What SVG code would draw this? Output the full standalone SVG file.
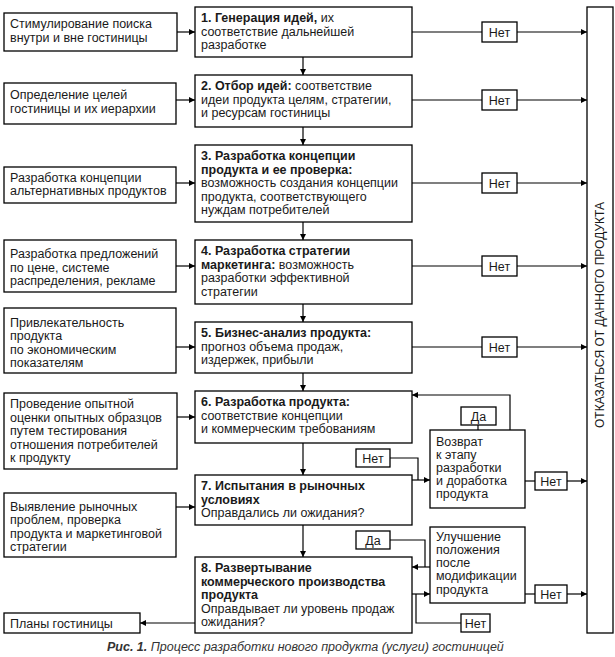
<svg xmlns="http://www.w3.org/2000/svg" width="615" height="657" viewBox="0 0 615 657">
<defs>
<marker id="ah" viewBox="0 0 10 10" refX="10" refY="5" markerWidth="7" markerHeight="6" orient="auto" markerUnits="userSpaceOnUse">
<path d="M0,0 L10,5 L0,10 z" fill="#000"/>
</marker>
<style>
rect{fill:#fff;stroke:#000;stroke-width:1.3}
text{font-family:"Liberation Sans",Arial,sans-serif;font-size:12.5px;fill:#1a1a1a}
.b{font-weight:bold}
.c{text-anchor:middle}
.v{font-size:12px}
.con path{fill:none;stroke:#000;stroke-width:1.2}
.ar{marker-end:url(#ah)}
.cap{font-style:italic;font-size:12.5px;fill:#333}
</style>
</defs>
<rect x="0" y="0" width="615" height="657" style="fill:#fff;stroke:none"/>

<g id="connectors" class="con">
<path class="ar" d="M177,32 H195"/>
<path class="ar" d="M176,100 H195"/>
<path class="ar" d="M176,183 H195"/>
<path class="ar" d="M176,266 H195"/>
<path class="ar" d="M176,347 H195"/>
<path class="ar" d="M177,417 H195"/>
<path class="ar" d="M176,507 H195"/>
<path class="ar" d="M195,623 H140"/>
<path class="ar" d="M303,57 V75"/>
<path class="ar" d="M303,127 V145"/>
<path class="ar" d="M303,222 V240"/>
<path class="ar" d="M303,304 V322"/>
<path class="ar" d="M303,373 V391"/>
<path class="ar" d="M303,443 V475"/>
<path class="ar" d="M303,525 V557"/>
<path d="M412,32 H482"/><path class="ar" d="M517,32 H587"/>
<path d="M412,100 H482"/><path class="ar" d="M517,100 H587"/>
<path d="M412,183 H482"/><path class="ar" d="M517,183 H587"/>
<path d="M412,266 H482"/><path class="ar" d="M517,266 H587"/>
<path d="M412,347 H482"/><path class="ar" d="M517,347 H587"/>
<path class="ar" d="M510,430 V395 H412"/>
<path d="M478,425 V430"/>
<path class="ar" d="M412,480 H430"/>
<path d="M390,458 H418 V480"/>
<path d="M525,481 H535"/><path class="ar" d="M567,481 H587"/>
<path class="ar" d="M430,567 H412"/>
<path d="M390,540 H425 V567"/>
<path class="ar" d="M412,594 H430"/>
<path d="M416,594 V623 H461"/>
<path d="M525,594 H535"/><path class="ar" d="M567,594 H587"/>
</g>

<g id="l1"><rect x="4" y="13" width="173" height="38"/>
<text x="10" y="28">Стимулирование поиска</text><text x="10" y="42">внутри и вне гостиницы</text></g>
<g id="l2"><rect x="4" y="83" width="172" height="41"/>
<text x="10" y="99">Определение целей</text><text x="10" y="113">гостиницы и их иерархии</text></g>
<g id="l3"><rect x="4" y="167" width="172" height="36"/>
<text x="10" y="181.5">Разработка концепции</text><text x="10" y="195">альтернативных продуктов</text></g>
<g id="l4"><rect x="4" y="240" width="172" height="52"/>
<text x="10" y="258">Разработка предложений</text><text x="10" y="272">по цене, системе</text><text x="10" y="285">распределения, рекламе</text></g>
<g id="l5"><rect x="4" y="308" width="172" height="65"/>
<text x="10" y="327">Привлекательность</text><text x="10" y="340">продукта</text><text x="10" y="353.5">по экономическим</text><text x="10" y="367">показателям</text></g>
<g id="l6"><rect x="4" y="393" width="173" height="76"/>
<text x="10" y="408">Проведение опытной</text><text x="10" y="422">оценки опытных образцов</text><text x="10" y="435">путем тестирования</text><text x="10" y="448.5">отношения потребителей</text><text x="10" y="462">к продукту</text></g>
<g id="l7"><rect x="4" y="493" width="172" height="64"/>
<text x="10" y="511">Выявление рыночных</text><text x="10" y="524">проблем, проверка</text><text x="10" y="537.5">продукта и маркетинговой</text><text x="10" y="551">стратегии</text></g>
<g id="l8"><rect x="4" y="613" width="136" height="20"/>
<text x="10" y="627.5">Планы гостиницы</text></g>

<g id="s1"><rect x="195" y="7" width="217" height="50"/>
<text x="201" y="22"><tspan class="b">1. Генерация идей,</tspan> их</text><text x="201" y="35.5">соответствие дальнейшей</text><text x="201" y="49">разработке</text></g>
<g id="s2"><rect x="195" y="75" width="217" height="52"/>
<text x="201" y="90"><tspan class="b">2. Отбор идей:</tspan> соответствие</text><text x="201" y="103.5">идеи продукта целям, стратегии,</text><text x="201" y="117">и ресурсам гостиницы</text></g>
<g id="s3"><rect x="195" y="145" width="217" height="77"/>
<text x="201" y="160" class="b">3. Разработка концепции</text><text x="201" y="173.5" class="b">продукта и ее проверка:</text><text x="201" y="187">возможность создания концепции</text><text x="201" y="200.5">продукта, соответствующего</text><text x="201" y="214">нуждам потребителей</text></g>
<g id="s4"><rect x="195" y="240" width="217" height="64"/>
<text x="201" y="255" class="b">4. Разработка стратегии</text><text x="201" y="268.5"><tspan class="b">маркетинга:</tspan> возможность</text><text x="201" y="282">разработки эффективной</text><text x="201" y="295.5">стратегии</text></g>
<g id="s5"><rect x="195" y="322" width="217" height="51"/>
<text x="201" y="337" class="b">5. Бизнес-анализ продукта:</text><text x="201" y="350.5">прогноз объема продаж,</text><text x="201" y="364">издержек, прибыли</text></g>
<g id="s6"><rect x="195" y="391" width="217" height="52"/>
<text x="201" y="406" class="b">6. Разработка продукта:</text><text x="201" y="419.5">соответствие концепции</text><text x="201" y="433">и коммерческим требованиям</text></g>
<g id="s7"><rect x="195" y="475" width="217" height="50"/>
<text x="201" y="490" class="b">7. Испытания в рыночных</text><text x="201" y="503.5" class="b">условиях</text><text x="201" y="517">Оправдались ли ожидания?</text></g>
<g id="s8"><rect x="195" y="557" width="217" height="76"/>
<text x="201" y="572" class="b">8. Развертывание</text><text x="201" y="585.5" class="b">коммерческого производства</text><text x="201" y="599" class="b">продукта</text><text x="201" y="612.5">Оправдывает ли уровень продаж</text><text x="201" y="626">ожидания?</text></g>

<g id="ret"><rect x="430" y="430" width="95" height="78"/>
<text x="436" y="446">Возврат</text><text x="436" y="459">к этапу</text><text x="436" y="471.5">разработки</text><text x="436" y="484.5">и доработка</text><text x="436" y="497.5">продукта</text></g>
<g id="imp"><rect x="430" y="527" width="95" height="76"/>
<text x="436" y="541">Улучшение</text><text x="436" y="554">положения</text><text x="436" y="567">после</text><text x="436" y="580">модификации</text><text x="436" y="593.5">продукта</text></g>

<g id="rej"><rect x="587" y="7" width="26" height="626"/>
<text class="c v" transform="translate(604,315) rotate(-90)">ОТКАЗАТЬСЯ ОТ ДАННОГО ПРОДУКТА</text></g>

<g id="n1"><rect x="482" y="22" width="35" height="20"/><text class="c" x="499.5" y="36.5">Нет</text></g>
<g id="n2"><rect x="482" y="90" width="35" height="20"/><text class="c" x="499.5" y="104.5">Нет</text></g>
<g id="n3"><rect x="482" y="173" width="35" height="20"/><text class="c" x="499.5" y="187.5">Нет</text></g>
<g id="n4"><rect x="482" y="256" width="35" height="20"/><text class="c" x="499.5" y="270.5">Нет</text></g>
<g id="n5"><rect x="482" y="337" width="35" height="20"/><text class="c" x="499.5" y="351.5">Нет</text></g>
<g id="y1"><rect x="461" y="407" width="35" height="18"/><text class="c" x="478.5" y="420.5">Да</text></g>
<g id="n6"><rect x="356" y="449" width="34" height="18"/><text class="c" x="373" y="462.5">Нет</text></g>
<g id="n7"><rect x="535" y="472" width="32" height="18"/><text class="c" x="551" y="485.5">Нет</text></g>
<g id="y2"><rect x="356" y="531" width="34" height="18"/><text class="c" x="373" y="544.5">Да</text></g>
<g id="n8"><rect x="535" y="585" width="32" height="18"/><text class="c" x="551" y="598.5">Нет</text></g>
<g id="n9"><rect x="461" y="614" width="29" height="18"/><text class="c" x="475.5" y="627.5">Нет</text></g>

<text class="cap" x="107" y="651"><tspan class="b">Рис. 1.</tspan> Процесс разработки нового продукта (услуги) гостиницей</text>
</svg>
